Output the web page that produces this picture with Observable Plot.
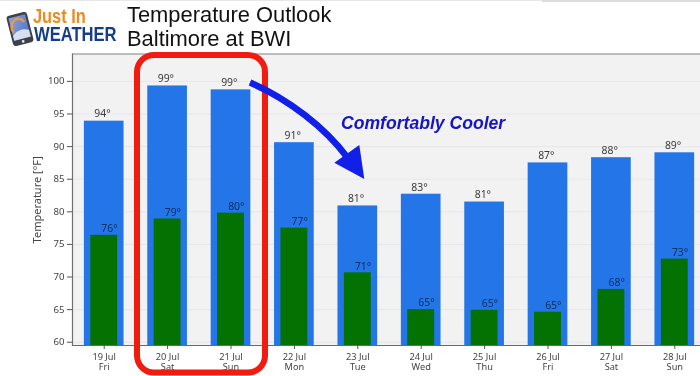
<!DOCTYPE html>
<html><head><meta charset="utf-8">
<script src="https://cdn.jsdelivr.net/npm/d3@7"></script>
<script src="https://cdn.jsdelivr.net/npm/@observablehq/plot@0.6"></script>
<style>
html,body{margin:0;padding:0;background:#fff;overflow:hidden}
#wrap{position:relative;width:700px;height:376px;filter:blur(0.45px);overflow:hidden}
#wrap>svg{position:absolute;left:0;top:0}
.t{position:absolute;left:127px;font:21.9px "Liberation Sans",Arial,sans-serif;color:#111;white-space:nowrap;line-height:28px}
.c{position:absolute;left:341px;top:113px;font:italic bold 17.6px "Liberation Sans",Arial,sans-serif;color:#1414c8;white-space:nowrap}
.bar-top{position:absolute;left:0;top:0;width:700px;height:1px;background:#e8e8e8}
.bar-shadow{position:absolute;left:542px;top:0;width:158px;height:2px;background:#dcdcdc}
</style></head><body>
<div id="wrap"></div>
<script>
const days = ["19 Jul","20 Jul","21 Jul","22 Jul","23 Jul","24 Jul","25 Jul","26 Jul","27 Jul","28 Jul"];
const weekdays = ["Fri","Sat","Sun","Mon","Tue","Wed","Thu","Fri","Sat","Sun"];
const highs = [93.9,99.3,98.7,90.6,80.9,82.7,81.5,87.5,88.3,89.05];
const lows = [76.4,78.9,79.8,77.5,70.65,65,64.9,64.6,68.1,72.75];
const highLabels = [94,99,99,91,81,83,81,87,88,89];
const lowLabels = [76,79,80,77,71,65,65,65,68,73];
const yTicks = [60,65,70,75,80,85,90,95,100];

const rows = days.map((d,i)=>({day:d,wd:weekdays[i],hi:highs[i],lo:lows[i],hl:highLabels[i],ll:lowLabels[i]}));
const wdOf = new Map(days.map((d,i)=>[d,weekdays[i]]));
const font = '"Noto Sans","Open Sans",sans-serif';

const plot = Plot.plot({
  width:700,height:376,
  marginTop:53.5,marginBottom:31,marginLeft:72,marginRight:0,
  style:{fontFamily:font,background:"transparent",overflow:"hidden"},
  x:{type:"band",domain:days,range:[72,706],paddingInner:0.374,paddingOuter:0.187,round:false},
  y:{domain:[59.5,104.2],range:[345,53.5]},
  marks:[
    Plot.frame({fill:"#f3f2f3",stroke:null}),
    Plot.gridY(yTicks,{stroke:"#e8e7e8",strokeOpacity:1,strokeWidth:1}),
    Plot.barY(rows,{x:"day",y1:59.5,y2:"hi",fill:"#2476e8"}),
    Plot.barY(rows,{x:"day",y1:59.5,y2:"lo",fill:"#037203",insetLeft:6.4,insetRight:6.4}),
    Plot.frame({anchor:"left",stroke:"#6f6f6f",strokeWidth:1.2}),
    Plot.frame({anchor:"top",stroke:"#808080",strokeWidth:1.2}),
    Plot.frame({anchor:"bottom",stroke:"#5f6b75",strokeWidth:1.2}),
    Plot.axisY({ticks:yTicks,tickSize:5,tickPadding:3,fontSize:9.6,stroke:"#555",color:"#444",label:null}),
    Plot.axisX({tickSize:4,tickPadding:3,fontSize:9.2,stroke:"#555",color:"#444",label:null,lineHeight:1.09,
      tickFormat:d=>d+"\n"+wdOf.get(d)}),
    Plot.text(rows,{x:"day",y:"hi",text:d=>d.hl+"°",dy:-7,dx:-1.7,fontSize:10.4,fill:"#3a3a3a"}),
    Plot.text(rows,{x:"day",y:"lo",text:d=>d.ll+"°",dy:-6.5,dx:5.3,fontSize:10.4,fill:"#0c2f66"}),
    Plot.text(["Temperature [°F]"],{frameAnchor:"left",textAnchor:"middle",dx:-35,rotate:-90,fontSize:11,fill:"#444"}),
    () => {
      const g = d3.create("svg:g");
      g.append("rect").attr("x",137).attr("y",55).attr("width",128).attr("height",317.5)
        .attr("rx",17).attr("fill","none").attr("stroke","#f01c10").attr("stroke-width",6);
      g.append("path").attr("d","M250,82.5C290,100 325,128 347,157")
        .attr("fill","none").attr("stroke","#1020e8").attr("stroke-width",6.5);
      g.append("path").attr("d","M334.3,162.7L359.3,145L364.3,179Z").attr("fill","#1020e8");
      return g.node();
    }
  ]
});
const wrap = document.getElementById("wrap");
wrap.appendChild(plot);

wrap.insertAdjacentHTML("beforeend",`
<div class="bar-top"></div><div class="bar-shadow"></div>
<div class="t" style="top:1px">Temperature Outlook</div>
<div class="t" style="top:25px">Baltimore at BWI</div>
<div class="c">Comfortably Cooler</div>
<svg width="125" height="52" style="position:absolute;left:0;top:0">
  <defs><linearGradient id="sc" x1="0" y1="0" x2="1" y2="1">
    <stop offset="0" stop-color="#8ea3dd"/><stop offset="1" stop-color="#4b6fc0"/></linearGradient></defs>
  <g transform="rotate(-14.5 20 29)">
    <rect x="9.5" y="13.5" width="21" height="31" rx="3" fill="#3d4148"/>
    <rect x="11.5" y="16" width="17" height="23" fill="url(#sc)"/>
    <path d="M13 31a7 8 0 0 1 13-8" fill="none" stroke="#e89a4a" stroke-width="2.5"/>
    <path d="M11.5 34c5-5 12-5 17-2v7h-17z" fill="#d5def2"/>
    <circle cx="20" cy="41.8" r="1.4" fill="#e8e8e8"/>
  </g>
  <text transform="translate(33,23) scale(0.82,1)" font-family="'Liberation Sans',sans-serif" font-weight="700" font-size="20" fill="#ee8a1e">Just In</text>
  <text transform="translate(34,40.7) scale(0.83,1)" font-family="'Liberation Sans',sans-serif" font-weight="700" font-size="20" fill="#143f86">WEATHER</text>
</svg>`);
</script>
</body></html>
